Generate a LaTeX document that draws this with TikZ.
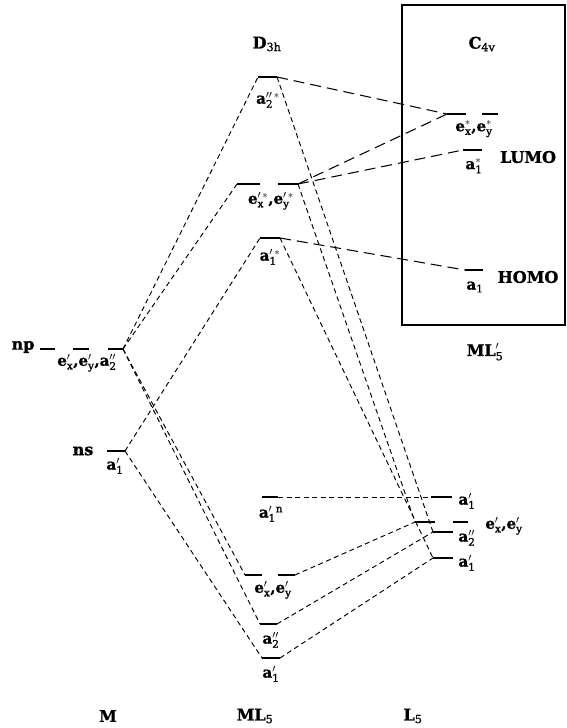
\documentclass[tikz,border=0pt]{standalone}
\usepackage{fontspec}
\setmainfont[FakeBold=1.2]{DejaVu Serif}
\newcommand{\rx}{\mathrm{x}}
\newcommand{\ry}{\mathrm{y}}
\begin{document}
\begin{tikzpicture}[x=1pt,y=-1pt,
  lev/.style={line width=1.9pt},
  sd/.style={dash pattern=on 5pt off 3.5pt, line width=0.95pt},
  ld/.style={dash pattern=on 11pt off 6pt, line width=1.05pt},
  lbl/.style={font=\fontsize{16}{18}\selectfont\bfseries, inner sep=0pt},
  sl/.style={font=\fontsize{15}{17}\selectfont\bfseries, inner sep=0pt}]
\useasboundingbox (0,0) rectangle (567,728);
% ---------- box ----------
\draw[line width=1.1pt] (402,5) rectangle (565,325);
% ---------- M levels ----------
\coordinate (np1L) at (40,349); \coordinate (np1R) at (55,349);
\coordinate (np2L) at (73,349); \coordinate (np2R) at (89,349);
\coordinate (np3L) at (108,349); \coordinate (npR) at (123,349);
\coordinate (nsL) at (107,451); \coordinate (nsR) at (125,451);
% ---------- ML5 levels ----------
\coordinate (a2sL) at (258,77); \coordinate (a2sR) at (277,77);
\coordinate (es1L) at (237,184); \coordinate (es1R) at (260,184);
\coordinate (es2L) at (278,184); \coordinate (esR) at (298,184);
\coordinate (a1sL) at (260,238); \coordinate (a1sR) at (280,238);
\coordinate (a1nL) at (262,497); \coordinate (a1nR) at (278,497);
\coordinate (ep1L) at (245,575); \coordinate (ep1R) at (262,575);
\coordinate (ep2L) at (278,575); \coordinate (epR) at (295,575);
\coordinate (a2L) at (260,624); \coordinate (a2R) at (277,624);
\coordinate (a1L) at (262,658); \coordinate (a1R) at (280,658);
% ---------- C4v levels ----------
\coordinate (ce1L) at (447,114); \coordinate (ce1R) at (466,114);
\coordinate (ce2L) at (482,114); \coordinate (ce2R) at (498,114);
\coordinate (luL) at (463,150); \coordinate (luR) at (482,150);
\coordinate (hoL) at (465,270); \coordinate (hoR) at (483,270);
% ---------- L5 levels ----------
\coordinate (La1tL) at (431,497); \coordinate (La1tR) at (452,497);
\coordinate (Le1L) at (415,522); \coordinate (Le1R) at (435,522);
\coordinate (Le2L) at (453,522); \coordinate (Le2R) at (468,522);
\coordinate (La2L) at (433,532); \coordinate (La2R) at (453,532);
\coordinate (La1bL) at (433,558); \coordinate (La1bR) at (453,558);
% bars
\foreach \a/\b in {np1L/np1R,np2L/np2R,np3L/npR,nsL/nsR,
  a2sL/a2sR,es1L/es1R,es2L/esR,a1sL/a1sR,a1nL/a1nR,ep1L/ep1R,ep2L/epR,a2L/a2R,a1L/a1R,
  ce1L/ce1R,ce2L/ce2R,luL/luR,hoL/hoR,
  La1tL/La1tR,Le1L/Le1R,Le2L/Le2R,La2L/La2R,La1bL/La1bR}
  \draw[lev] (\a) -- (\b);
% ---------- connectors ----------
\draw[sd] (npR) -- (a2sL);
\draw[sd] (npR) -- (es1L);
\draw[sd] (npR) -- (ep1L);
\draw[sd] (npR) -- (a2L);
\draw[sd] (nsR) -- (a1sL);
\draw[sd] (nsR) -- (a1L);
\draw[ld] (a2sR) -- (ce1L);
\draw[ld] (esR) -- (ce1L);
\draw[ld] (esR) -- (luL);
\draw[ld] (a1sR) -- (hoL);
\draw[sd] (a2sR) -- (La2L);
\draw[sd] (esR) -- (Le1L);
\draw[sd] (a1sR) -- (La1bL);
\draw[sd] (a1nR) -- (La1tL);
\draw[sd] (epR) -- (Le1L);
\draw[sd] (a2R) -- (La2L);
\draw[sd] (a1R) -- (La1bL);
% ---------- labels ----------
\node[lbl] (tD) at (267,44) {D$_{\mathrm{3h}}$};
\node[lbl] (tC) at (482,44) {C$_{\mathrm{4v}}$};
\node[lbl] (tnp) at (23,347) {np};
\node[lbl] (tns) at (83,451) {ns};
\node[sl] (lnp) at (87,363) {e$'_\rx$,e$'_\ry$,a$''_{\mathrm{2}}$};
\node[sl] (lns) at (115,466) {a$'_{\mathrm{1}}$};
\node[sl] (la2s) at (268,100) {a$''^{\,*}_{\mathrm{2}}$};
\node[sl] (les) at (271,201) {e$'^{\,*}_\rx$,e$'^{\,*}_\ry$};
\node[sl] (la1s) at (270,257) {a$'^{\,*}_{\mathrm{1}}$};
\node[sl] (la1n) at (271,514) {a$'_{\mathrm{1}}{}^{\mathrm{n}}$};
\node[sl] (lep) at (273,590) {e$'_\rx$,e$'_\ry$};
\node[sl] (la2) at (271,640) {a$''_{\mathrm{2}}$};
\node[sl] (la1) at (271,674) {a$'_{\mathrm{1}}$};
\node[sl] (lce) at (474,129) {e$^{*}_\rx$,e$^{*}_\ry$};
\node[sl] (llu) at (474,166) {a$^{*}_{\mathrm{1}}$};
\node[lbl] (tlu) at (528,157) {LUMO};
\node[sl] (lho) at (475,287) {a$_{\mathrm{1}}$};
\node[lbl] (tho) at (528,277) {HOMO};
\node[sl] (lLa1t) at (467,501) {a$'_{\mathrm{1}}$};
\node[sl] (lLe) at (504,526) {e$'_\rx$,e$'_\ry$};
\node[sl] (lLa2) at (467,538) {a$''_{\mathrm{2}}$};
\node[sl] (lLa1b) at (467,563) {a$'_{\mathrm{1}}$};
\node[lbl] (tMLp) at (485,352) {ML$'_{\mathrm{5}}$};
\node[lbl] (tM) at (108,716) {M};
\node[lbl] (tML) at (255,716) {ML$_{\mathrm{5}}$};
\node[lbl] (tL) at (413,716) {L$_{\mathrm{5}}$};
\end{tikzpicture}
\end{document}
